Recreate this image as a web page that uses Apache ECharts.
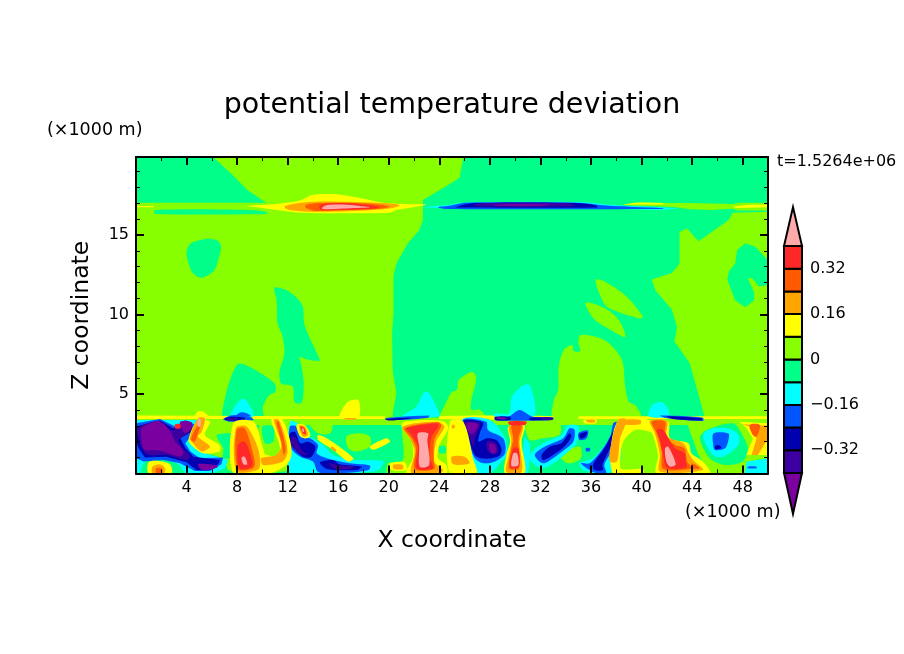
<!DOCTYPE html>
<html>
<head>
<meta charset="utf-8">
<script src="https://cdn.jsdelivr.net/npm/echarts@6/dist/echarts.min.js"></script>
<style>html,body{margin:0;background:#fff}#main{width:904px;height:654px}</style>
</head>
<body>
<div id="main"></div>
<script>
// contour regions, each one a flat list x,z,x,z... in km
const baseRegions = [[0,0, 50,0, 50,19.9, 0,19.9]];

const springRegions = [
  [0,19.9, 6.1,19.9, 7.6,18.8, 8.8,17.83, 10.3,17.03, 0,17.03],
  [1.5,16.57, 9,16.57, 10.3,16.45, 10.3,16.32, 1.5,16.32],
  [25.9,19.9, 25.6,18.6, 24.4,18, 22.7,17.2, 22.7,15.94, 22.4,15.3, 21.5,14.47, 20.6,13.2, 20.37,12.4, 20.37,10.07, 20.26,8.8, 20.3,6.5, 20.6,5.04, 20.3,3.78, 20.3,3.5, 50,3.5, 50,19.9],
  [0,0, 50,0, 50,3.05, 0,3.05],
  [5.54,14.75, 6.46,14.64, 6.73,14.26, 6.46,13.3, 6.12,12.7, 5.15,12.31, 4.49,12.6, 4.09,13.4, 4,13.95, 4.35,14.47],
  [10.95,11.68, 11.74,11.58, 12.66,11.1, 13.2,10.5, 13.3,9.44, 13.7,8.6, 14.5,7.24, 14.5,7.07, 13.46,7.18, 12.93,7.34, 13.06,6.9, 13.27,5.67, 13.1,4.45, 12.53,4.5, 12.4,5.46, 11.48,5.67, 11.35,6.4, 11.74,7.55, 11.6,8.6, 11.2,9.44, 11.13,10.9],
  [8.05,6.88, 8.44,6.88, 9.23,6.6, 10.95,5.67, 11.03,5.14, 10.55,4.93, 10.03,4.2, 10.03,3.5, 6.94,3.5, 7,4.6, 7.52,6.09]
];

const limeRegions = [
  [0,3.05, 50,3.05, 50,3.45, 0,3.45],
  [50,16.45, 47.2,16.4, 46.9,15.94, 44.5,14.6, 43.6,15.4, 43,15.2, 43,13.2, 42.4,12.6, 40.8,12.2, 41.1,11.5, 42.4,10.3, 42.8,9.2, 42.6,8.3, 43.8,6.95, 44.4,5.25, 45,3.5, 50,3.5],
  [36.35,12.17, 37,12.1, 38.7,11.2, 40.1,9.86, 39.8,9.75, 37.4,10.4, 36.9,10.9],
  [35.55,10.7, 36.1,10.7, 37.3,10.3, 38.2,9.65, 38.7,8.6, 37.4,9.1, 36.2,9.75],
  [35.16,8.7, 36.35,8.6, 37.4,8.2, 38.46,7.1, 38.7,5.46, 39,4.5, 39.5,4.3, 39.9,3.5, 33.05,3.5, 33.05,4.6, 33.4,5.25, 33.44,6.7, 33.84,7.76, 34.5,8.08, 34.63,7.7, 35.16,7.7, 35,8.2],
  [24.1,3.5, 24.5,4.4, 25,5.14, 25.4,5.25, 25.53,5.88, 26.58,6.4, 26.9,6.1, 26.8,5.46, 26.53,4.6, 26.53,4, 27.24,4, 27.64,3.5],
  [38.5,16.9, 39.6,17.03, 41.7,17, 43.8,17, 47.2,16.95, 47.7,17.03, 50,17.03, 50,16.53, 47.5,16.53, 47.2,16.65, 45.4,16.57, 43.8,16.61, 42.7,16.74, 41.7,16.78, 38.8,16.87],
  [0.45,0, 0.85,0.75, 1.9,0.96, 3.1,0.54, 3.5,0],
  [5.2,3.16, 7.7,3.16, 8,2.63, 6.4,2.42, 6.9,1.58, 6.9,0.96, 8,0.96, 8,0.16, 7.3,0.2, 7,0.85, 6.1,1.17, 5.2,1.38],
  [9.9,3.26, 12.7,3.26, 13,2.74, 12.2,2.63, 12.4,0.33, 11.9,0.16, 10,0.16],
  [16.65,2.32, 17.6,2.53, 18.5,2.32, 18.5,1.69, 17.45,1.38, 16.8,1.58],
  [13.75,3.16, 15.5,3.16, 15.35,2.53, 14.4,2.53],
  [19.95,0.64, 21.1,0.85, 21.25,3.26, 24.8,3.26, 25.6,3.05, 25.6,0, 19.95,0],
  [30.9,3.05, 33.5,3.16, 33.5,2.42, 32.2,2.21, 31.15,2.1],
  [33.5,1.17, 35.1,1.69, 35.2,0.96, 34.2,0.64],
  [38,3.3, 41,3.3, 41.5,0, 38,0],
  [43.55,3.26, 50,3.26, 50,0, 45.4,0, 44.5,1.17]
];

const springIslands = [
  [48.2,14.47, 47.56,14.05, 47.4,13.2, 46.9,12.7, 46.77,12.2, 47.4,10.9, 48.2,10.45, 48.9,10.9, 48.9,11.4, 48.4,12.27, 48.75,12.27, 49.3,11.75, 50,11.85, 50,13.4, 49,14.26],
  [0.2,0, 0.2,0.12, 0.6,0.85, 2,1.06, 3.5,0.54, 4,0],
  [10,2.95, 10.85,2.95, 10.85,2, 10.2,1.9],
  [24,1.7, 24.5,1.7, 24.5,1.3, 24,1.3],
  [44.6,2.21, 45.15,2.74, 47.25,3.16, 47.9,2.53, 48.4,1.58, 48,0.75, 46.6,0.54, 45.4,0.96]
];

const stripRegions = [
  [0,3.64, 13,3.6, 19.7,3.6, 19.7,3.42, 0,3.42],
  [24,3.6, 33,3.6, 33,3.42, 24,3.42],
  [35,3.6, 50,3.6, 50,3.42, 35,3.42]
];

const cyanRegions = [
  [0,3.37, 4.9,3.37, 4.9,2.32, 4.5,1.69, 5.85,1.17, 7.3,0.85, 7.05,0.33, 6,0, 3.9,0, 3.35,0.6, 2,1.05, 0.9,1, 0.5,0.5, 0.3,0, 0,0],
  [8.31,4.66, 8.7,4.62, 9.29,3.6, 7.52,3.6, 7.9,4.3],
  [22.82,5.14, 23.2,5.04, 23.88,4, 24,3.6, 21.1,3.6, 22.16,4.2],
  [30.67,5.56, 31.2,5.5, 31.46,3.6, 28.3,3.6, 28.43,3.78, 29.5,3.78, 29.75,4.83],
  [41.5,4.5, 42,4.2, 42.15,3.6, 40.57,3.6, 40.83,4.3],
  [22.7,16.74, 24.84,16.9, 25.6,17, 27.5,17.07, 35.1,17.07, 38,16.87, 42.7,16.68, 41.7,16.57, 36.4,16.68, 24.84,16.68],
  [12.18,3.26, 13,3.05, 13.75,2.32, 14.8,1.79, 15.6,1.17, 17.45,0.85, 19.55,0.75, 19,0.16, 14.3,0, 12.18,0],
  [25.8,3.37, 28,3.37, 29.2,2.21, 29.3,1.17, 28.8,0.64, 28,0, 26.7,0, 26.3,1.17],
  [30.75,2.21, 31.15,1.79, 31,0, 30.6,0],
  [31.15,1.17, 32.2,1.9, 33.65,2.42, 34.2,3.05, 35,2.95, 34.85,1.9, 34.2,1.38, 33.25,0.75, 32.2,0.33, 31.4,0.64],
  [35.1,0.64, 36.15,0.96, 37.2,1.9, 38.25,3.05, 38.25,0.54, 37.2,0, 35.35,0.22],
  [44.85,2.42, 45.65,2.84, 47,2.79, 47.65,2.42, 47.65,1.79, 46.45,1.06, 45.65,1.17],
  [48.3,0.75, 50,0.96, 50,0, 48.15,0]
];

const blueRegions = [
  [23.9,16.74, 24.9,16.85, 26,17.03, 35.1,17.03, 37.2,16.85, 41.7,16.68, 41.7,16.63, 24.5,16.63],
  [0,3.16, 1.9,3.43, 3.1,2.95, 3.9,3.37, 4.6,3.09, 4.65,2.63, 3.9,1.9, 4.3,1.38, 5.05,0.96, 6.9,1, 6.75,0.58, 5.85,0.16, 4.65,0.16, 3.5,0.64, 2.15,0.85, 0.6,0.75, 0,0.96],
  [6.9,3.43, 7.7,3.68, 9,3.57, 9.3,3.37, 7.4,3.26],
  [8.3,3.85, 8.8,3.78, 9.1,3.6, 7.9,3.6],
  [19.7,3.47, 23.2,3.64, 23.1,3.51, 20.9,3.37],
  [12.18,2.95, 12.7,2.95, 13,2.32, 13.75,2.21, 14.4,1.79, 14.3,1.27, 15.1,0.96, 16.9,0.64, 18.5,0.5, 18.4,0.22, 15.9,0, 14.4,0.1, 14,0.75, 13,1.06, 12.18,1.7],
  [25.85,3.37, 27.7,3.26, 27.85,2.74, 29.05,2.21, 29.2,1.27, 28.4,0.75, 27.5,0.64, 26.8,0.96, 26.4,1.79],
  [28.5,3.51, 29.45,3.57, 30.35,4, 31.4,3.57, 33,3.51, 32.9,3.37, 28.5,3.33],
  [31.55,1.17, 32.35,1.69, 33.8,2.21, 34.3,2.84, 34.7,2.74, 34.6,2, 34.05,1.58, 33,0.96, 32.2,0.64],
  [35,2.53, 35.75,2.7, 35.65,2.21, 35.1,2.1],
  [35.2,0.64, 35.9,0.64, 37.05,1.69, 37.95,2.95, 38.1,2.84, 37.75,1.58, 37.05,0.54, 37.2,0, 36.15,0.1],
  [35.6,1.6, 35.9,1.6, 35.9,1.4, 35.6,1.4],
  [37.75,3.16, 38.15,3.22, 37.7,1.79, 37.5,1.58],
  [41.45,3.64, 44.85,3.51, 44.85,3.3, 42,3.47],
  [45.7,2.53, 46.85,2.53, 46.9,2.21, 46.6,1.58, 45.8,1.48, 45.65,1.9],
  [48.4,0.43, 49.1,0.43, 49.1,0.33, 48.4,0.33]
];

const darkRegions = [
  [25.3,16.74, 26,16.91, 26.8,17, 34.8,17, 36.4,16.85, 36.5,16.72, 25.3,16.72],
  [0,2.95, 1.9,3.33, 2.95,2.84, 3.75,3.26, 4.45,2.95, 4.4,2.63, 3.5,2.21, 3.9,1.6, 4.55,1.06, 6.65,0.85, 6.5,0.58, 5.7,0.21, 4.8,0.21, 4,0.7, 2.4,1.06, 0.7,1, 0.2,1.6, 0,2],
  [7,3.43, 7.55,3.57, 8.6,3.51, 8.6,3.37, 7.4,3.33],
  [19.7,3.43, 21.9,3.51, 21.4,3.43, 20,3.33],
  [12.18,2.53, 12.6,2.6, 13,1.9, 13.6,2, 14.2,1.69, 13.9,1.06, 13.2,1.06, 12.18,1.9],
  [14.55,0.7, 15.6,0.85, 16.1,0.58, 17.85,0.43, 17.45,0.22, 15.1,0.29],
  [25.9,3.3, 27.45,3.2, 27.2,2.53, 27.1,2, 27.75,2.21, 28.5,2.1, 28.9,1.58, 28.8,1.17, 28.15,0.96, 27.35,0.96, 26.8,1.17, 26.4,2],
  [28.4,3.57, 29.6,3.57, 29.6,3.37, 28.4,3.37],
  [31.15,3.51, 33,3.51, 32.9,3.37, 31.15,3.37],
  [32.1,1.17, 32.75,1.69, 33.65,1.9, 34.3,2.53, 34.45,2.32, 33.9,1.69, 33,1.17, 32.2,0.85],
  [35.1,2.46, 35.7,2.6, 35.5,2.28, 35.15,2.2],
  [36.15,0.54, 37.05,1.58, 37.85,2.74, 37.6,1.79, 36.9,0.54, 36.95,0.22, 36.3,0.22],
  [42,3.6, 44.75,3.47, 44.75,3.35, 42.5,3.43],
  [45.85,1.75, 46.2,1.75, 46.3,1.58, 45.85,1.54]
];

const indigoRegions = [
  [26.7,16.87, 27.7,17, 34,17, 34.8,16.85, 33.8,16.78, 27.5,16.78],
  [0.1,2.85, 1.85,3.28, 2.85,2.7, 3.75,3.2, 4.4,2.9, 4.3,2.65, 3.4,2.1, 3.7,1.6, 4.3,1.1, 4,0.85, 2.5,1.15, 0.9,1.2, 0.4,1.7, 0.2,2.3],
  [7.15,3.43, 7.95,3.51, 7.95,3.37, 7.3,3.35],
  [12.3,2.21, 12.6,2.32, 13,1.58, 13.5,1.17, 13.1,1.2, 12.3,1.79],
  [15.3,0.64, 15.85,0.54, 17.3,0.43, 16.65,0.26, 15.6,0.33],
  [26,3.22, 27.2,3.16, 26.8,2.21, 26.7,1.69, 26.3,2.53],
  [27.75,2, 28.4,1.95, 28.65,1.48, 28.4,1.2, 27.85,1.38],
  [28.5,3.53, 29.3,3.53, 29.3,3.41, 28.5,3.41],
  [32.1,3.5, 33,3.5, 33,3.4, 32.1,3.4]
];

const purpleRegions = [
  [28.3,16.93, 32.7,16.93, 32.2,16.83, 28.5,16.83],
  [0.45,2.84, 1.1,3.16, 1.75,3.3, 2.3,3.05, 2.8,2.53, 3.1,2, 3.5,1.69, 3.75,1.27, 3.5,1.06, 2.15,1.38, 1.4,1.48, 0.7,1.48, 0.45,2],
  [4.9,0.58, 6.25,0.54, 6.5,0.43, 5.85,0.23, 5.2,0.23],
  [3.5,3.26, 4.4,3.22, 4.4,2.84, 3.9,2.53, 3.6,2.84],
  [26.15,3.16, 27.05,3.1, 26.7,2.53, 26.4,2.53],
  [28,1.9, 28.4,1.79, 28.5,1.38, 28.15,1.27, 27.95,1.58],
  [28.6,3.5, 29.2,3.5, 29.2,3.42, 28.6,3.42]
];

const yellowRegions = [
  [8.74,16.82, 11.1,16.95, 12.95,17.16, 14,17.52, 15.85,17.56, 17.4,17.37, 19.5,17.03, 21.1,16.95, 22.95,16.9, 20.6,16.57, 20.06,16.4, 16.4,16.36, 12.95,16.4, 11.4,16.53, 9.53,16.74],
  [0,16.82, 1.4,16.82, 1.4,16.74, 0,16.74],
  [38.5,16.9, 39.6,17.03, 41.7,17, 41.7,16.93, 39.5,16.91],
  [47.2,16.78, 48.5,16.89, 50,16.89, 50,16.74, 47.5,16.7],
  [1,0, 1,0.7, 1.8,0.79, 2.7,0.58, 2.8,0],
  [4.8,3.26, 5.85,3.26, 5.45,2.42, 6.6,1.79, 6.6,1.38, 5.3,1.27, 4.5,1.69, 4.15,2.1],
  [4.9,3.9, 5.3,3.9, 5.7,3.6, 4.7,3.6],
  [16.75,4.5, 17.6,4.6, 17.6,3.5, 16.1,3.5],
  [7.7,3.16, 9.3,3.26, 9.9,2, 10.3,0.54, 9.8,0, 7.7,0],
  [10.7,3.47, 11.5,3.47, 12.15,2.21, 12.3,1.17, 11.9,0.54, 10.6,0, 9.9,0, 9.9,1.17, 11.1,1.06, 11.4,1.58, 11.1,2.42],
  [12.7,3.05, 13.35,3.05, 13.8,2.42, 13.5,2.21, 13,2.32],
  [14.4,2.42, 15.1,2.21, 17.2,0.96, 16.8,0.75, 15.6,1.48, 14.4,2.1],
  [18.5,1.69, 19.8,2.21, 20.1,2, 18.75,1.48],
  [20.1,0.64, 21.25,0.7, 21.4,0.22, 20.2,0.22],
  [21,2.95, 21.25,3.26, 24.3,3.3, 24.7,2.84, 24,1.79, 23.9,0.96, 24.55,0.54, 24.55,0, 21.4,0, 21.9,0.96, 21.8,2],
  [24.95,3.16, 25.35,3.16, 25.35,2.84, 24.95,2.84],
  [24.84,3.26, 25.9,3.26, 26.7,0.85, 26.95,0, 24.84,0],
  [29.45,2.95, 30.75,3.05, 30.5,2, 30.75,0, 29.2,0, 29.3,1.17, 29.6,2],
  [35.4,3.37, 36.4,3.43, 36.4,3.16, 35.5,3.16],
  [37.7,0, 38.15,3.37, 40.8,3.3, 41.05,2.42, 40.65,2.63, 39.5,2.74, 38.55,2, 38.3,0.75, 38.4,0.28, 40.1,0.28, 40.1,0],
  [40.5,3.26, 42.1,3.26, 42.25,2.21, 43.7,1.9, 43.95,1.27, 44.85,0.75, 45.4,0, 41.2,0, 41.3,1.17, 40.9,2.42],
  [47.75,3.26, 50,3.16, 50,1.17, 48.3,1.17, 48.8,2.21, 48.3,2.84]
];

const amberRegions = [
  [11.8,16.82, 12.95,17, 14.5,17.1, 17.4,17.07, 19.5,17, 20.85,16.87, 20.06,16.66, 18,16.53, 14.3,16.45, 12.4,16.53, 11.8,16.68],
  [1.3,0, 1.3,0.42, 1.9,0.58, 2.3,0.33, 2.2,0],
  [4.9,3.47, 5.45,3.47, 5.2,2.63, 4.9,2.32, 5.85,1.69, 5.2,1.38, 4.5,1.9, 4.25,2.21],
  [7.9,2.84, 8.75,2.95, 9.65,1.58, 9.8,0.43, 9.4,0.16, 7.95,0.16],
  [10.9,3.37, 11.3,3.37, 11.9,2, 11.95,1.17, 11.5,0.7, 10.05,0.54, 9.9,0.96, 11.1,1.17, 11.5,1.79],
  [12.9,3, 13.35,2.95, 13.6,2.42, 13.2,2.32],
  [15.5,1.69, 15.85,1.48, 15.75,1.38, 15.4,1.58],
  [16.5,3.47, 17.4,3.47, 17.4,3.4, 16.5,3.4],
  [20.35,0.54, 21.1,0.54, 21.1,0.29, 20.4,0.29],
  [21.1,2.95, 23.75,3.26, 24.4,2.95, 23.75,2, 23.6,0.75, 24.3,0.22, 24,0, 21.8,0, 22.05,1.38, 21.65,2.21],
  [24.97,1.06, 26,1.06, 26.4,0.64, 25.1,0.58],
  [25,3.05, 25.2,3.05, 25.2,2.84, 25,2.84],
  [29.5,2.95, 30.6,3, 30.35,2, 30.5,0.1, 29.3,0.1, 29.5,1.17, 29.7,2.1],
  [35.6,3.37, 36.3,3.37, 36.3,3.22, 35.75,3.22],
  [38.15,3.37, 38.8,3.37, 38.3,2.21, 38.05,0.75, 37.5,0.75, 37.5,1.47],
  [38.55,3.37, 39.9,3.37, 39.9,3.1, 38.55,3.1],
  [40.65,3.3, 42,3.3, 42,2.32, 43.3,1.9, 43.8,1.17, 44.2,0.75, 44.85,0.22, 41.45,0.12, 41.45,1.17, 41.05,2.53],
  [47.9,3.1, 50,3, 50,2.21, 49.2,1.17, 48.7,1.17, 49.1,2.21, 48.55,2.95]
];

const orangeRegions = [
  [13.4,16.87, 14.5,17, 17.4,17, 19,16.93, 20.05,16.78, 19.3,16.64, 16.9,16.57, 14.3,16.51, 13.5,16.68],
  [1.6,0, 1.6,0.33, 2.05,0.33, 2.05,0],
  [4.9,3.05, 5.1,3.05, 4.9,2.53, 4.65,2, 4.35,2.15],
  [7.95,2.74, 8.6,2.84, 9.25,1.27, 9.4,0.54, 9.15,0.29, 8.05,0.29],
  [11.1,3.26, 11.3,3.26, 11.85,1.58, 11.7,1.17, 11.5,2],
  [21.25,2.84, 23.9,3.22, 24.15,3, 23.6,2.1, 23.55,0.85, 23.6,0.29, 22.05,0.29, 22.15,1.58, 21.8,2.21],
  [29.7,3.05, 30.5,3, 30.25,2.21, 30.3,0.33, 29.5,0.33, 29.7,1.58, 29.85,2.21],
  [40.8,3.26, 41.85,3.26, 41.85,2.42, 42.65,1.79, 43.4,1.58, 43.6,0.75, 43.95,0.33, 41.7,0.29, 41.6,1.38, 41.2,2.53],
  [43.95,0.64, 44.6,0.33, 43.95,0.33],
  [48.55,3.05, 49.35,3.05, 49.1,2.32, 48.8,2.42]
];

const redRegions = [
  [14.5,16.78, 14.8,16.93, 16.4,17, 17.95,16.91, 19.3,16.74, 17.95,16.61, 15.3,16.57, 14.6,16.61],
  [3.1,3.1, 3.5,3.1, 3.5,2.85, 3.1,2.85],
  [8.05,1.79, 8.6,2, 9.15,0.96, 9.15,0.43, 8.2,0.33],
  [13,2.95, 13.3,2.88, 13.45,2.46, 13.2,2.53],
  [21.4,2.84, 23.75,3.16, 23.95,3, 23.35,2.21, 23.25,0.96, 23.5,0.33, 22.2,0.33, 22.3,1.69, 21.8,2.42],
  [29.85,1.58, 30.25,1.58, 30.3,0.43, 29.6,0.37],
  [29.45,3.26, 30.9,3.26, 30.75,3.05, 29.6,3.05],
  [41.2,2.74, 41.7,2.74, 42.65,1.58, 43.4,1.27, 43.5,0.75, 43.55,0.37, 42,0.37, 41.7,1.17, 41.45,2.1]
];

const pinkRegions = [
  [14.7,16.68, 15.05,16.87, 16.4,16.91, 17.7,16.82, 18.5,16.74, 16.4,16.66, 15.05,16.61],
  [4.9,3.43, 5.1,3.43, 5.1,2.95, 4.9,2.95],
  [8.35,1, 8.6,1.06, 8.8,0.58, 8.5,0.58],
  [13.13,2.84, 13.23,2.84, 13.3,2.63, 13.18,2.63],
  [22.3,2.53, 23.1,2.53, 23.05,2.1, 23.2,0.54, 22.45,0.43, 22.4,1.69],
  [29.85,1.27, 30.15,1.27, 30.25,0.54, 29.7,0.47],
  [41.85,1.58, 42.1,1.69, 42.7,0.58, 42.25,0.43, 41.95,0.75]
];

// colour bar: band edges from bottom to top, and the labelled levels
const barEdges = [-0.4, -0.32, -0.24, -0.16, -0.08, 0, 0.08, 0.16, 0.24, 0.32, 0.4];
const barColors = ['#3c00a0', '#0000b0', '#0055ff', '#00ffff', '#00ff88', '#88ff00', '#ffff00', '#ffa500', '#ff5a00', '#ff2828'];
const barTips = [-0.544, 0.537];
const barTicks = [-0.32, -0.16, 0, 0.16, 0.32];

const fontName = 'DejaVu Sans';
const C = {
  pink: '#ffaaaa', red: '#ff2828', orange: '#ff5a00', amber: '#ffa500', yellow: '#ffff00', lime: '#88ff00',
  spring: '#00ff88', cyan: '#00ffff', blue: '#0055ff', dark: '#0000b0', indigo: '#3c00a0', purple: '#7a00a0'
};

var myChart = echarts.init(document.getElementById('main'));

// painted back to front, so an inner contour sits on top of the outer one
const layers = [
  [baseRegions, C.lime], [springRegions, C.spring], [limeRegions, C.lime], [springIslands, C.spring],
  [stripRegions, C.yellow], [cyanRegions, C.cyan], [blueRegions, C.blue], [darkRegions, C.dark],
  [indigoRegions, C.indigo], [purpleRegions, C.purple], [yellowRegions, C.yellow], [amberRegions, C.amber],
  [orangeRegions, C.orange], [redRegions, C.red], [pinkRegions, C.pink]
];

// regions that run into the frame keep their corners, the rest get rounded like real contours
function touchesFrame(r) {
  for (let k = 0; k < r.length; k += 2) {
    if (r[k] === 0 || r[k] === 50 || r[k + 1] === 19.9) return true;
  }
  return false;
}

function regionSeries(regions, color, i) {
  return {
    type: 'custom',
    xAxisIndex: 0,
    yAxisIndex: 0,
    z: 2 + i,
    silent: true,
    animation: false,
    clip: true,
    data: regions.map(r => [r[0], r[1]]),
    renderItem: function (params, api) {
      const r = regions[params.dataIndex];
      const points = [];
      for (let k = 0; k < r.length; k += 2) points.push(api.coord([r[k], r[k + 1]]));
      return {
        type: 'polygon',
        shape: { points: points, smooth: touchesFrame(r) ? 0 : 0.3 },
        style: { fill: color }
      };
    }
  };
}

const barSeries = {
  type: 'custom',
  xAxisIndex: 2,
  yAxisIndex: 2,
  z: 30,
  silent: true,
  animation: false,
  data: barColors.map((c, i) => [0, barEdges[i]]),
  renderItem: function (params, api) {
    const i = params.dataIndex;
    const a = api.coord([0, barEdges[i]]);
    const b = api.coord([1, barEdges[i + 1]]);
    return {
      type: 'rect',
      shape: { x: a[0], y: b[1], width: b[0] - a[0], height: a[1] - b[1] },
      style: { fill: barColors[i], stroke: '#000', lineWidth: 2 }
    };
  }
};

const tipSeries = {
  type: 'custom',
  xAxisIndex: 2,
  yAxisIndex: 2,
  z: 30,
  silent: true,
  animation: false,
  data: [[0.5, barTips[0]], [0.5, barTips[1]]],
  renderItem: function (params, api) {
    const i = params.dataIndex;
    const edge = i === 0 ? barEdges[0] : barEdges[barEdges.length - 1];
    return {
      type: 'polygon',
      shape: { points: [api.coord([0, edge]), api.coord([1, edge]), api.coord([0.5, barTips[i]])] },
      style: { fill: i === 0 ? C.purple : C.pink, stroke: '#000', lineWidth: 2, lineJoin: 'miter' }
    };
  }
};

const labelStyle = { fontFamily: fontName, fontSize: 16, color: '#000' };

function frameAxis(extra) {
  return Object.assign({
    type: 'value',
    z: 50,
    gridIndex: 0,
    splitLine: { show: false },
    axisLine: { show: true, onZero: false, lineStyle: { color: '#000', width: 2 } },
    axisTick: { show: true, inside: true, length: 8, lineStyle: { color: '#000', width: 2 } }
  }, extra);
}

option = {
  animation: false,
  backgroundColor: '#fff',
  title: {
    text: 'potential temperature deviation',
    left: 'center',
    top: 86,
    textStyle: { fontFamily: fontName, fontSize: 28.5, fontWeight: 'normal', color: '#000' }
  },
  graphic: [
    { type: 'text', left: 47, top: 121, style: { text: '(×1000 m)', font: '17.5px "DejaVu Sans"', fill: '#000' } },
    { type: 'text', left: 685, top: 503, style: { text: '(×1000 m)', font: '17.5px "DejaVu Sans"', fill: '#000' } },
    { type: 'text', left: 777, top: 154, style: { text: 't=1.5264e+06', font: '16px "DejaVu Sans"', fill: '#000' } }
  ],
  grid: [
    { left: 136, top: 157, width: 632, height: 316.5 },
    { left: 784, top: 246, width: 18, height: 227 }
  ],
  xAxis: [
    frameAxis({
      position: 'bottom', min: 0, max: 50, interval: 4,
      minorTick: { show: true, splitNumber: 2, length: 4, lineStyle: { color: '#000', width: 1 } },
      axisLabel: Object.assign({ margin: 6, showMaxLabel: false, showMinLabel: false }, labelStyle),
      name: 'X coordinate', nameLocation: 'middle', nameGap: 55,
      nameTextStyle: { fontFamily: fontName, fontSize: 23.5, color: '#000' }
    }),
    frameAxis({
      position: 'top', min: 0, max: 50, interval: 4,
      minorTick: { show: true, splitNumber: 2, length: 4, lineStyle: { color: '#000', width: 1 } },
      axisLabel: { show: false }
    }),
    { type: 'value', gridIndex: 1, min: 0, max: 1, show: false }
  ],
  yAxis: [
    frameAxis({
      position: 'left', min: 0, max: 19.9, interval: 5,
      minorTick: { show: true, splitNumber: 5, length: 4, lineStyle: { color: '#000', width: 1 } },
      axisLabel: Object.assign({ margin: 7, showMaxLabel: false, showMinLabel: false, padding: [3, 0, 0, 0] }, labelStyle),
      name: 'Z coordinate', nameLocation: 'middle', nameGap: 42,
      nameTextStyle: { fontFamily: fontName, fontSize: 23.5, color: '#000' }
    }),
    frameAxis({
      position: 'right', min: 0, max: 19.9, interval: 5,
      minorTick: { show: true, splitNumber: 5, length: 4, lineStyle: { color: '#000', width: 1 } },
      axisLabel: { show: false }
    }),
    {
      type: 'value', gridIndex: 1, position: 'right', min: barEdges[0], max: barEdges[barEdges.length - 1],
      splitLine: { show: false },
      axisLine: { show: false },
      axisTick: { show: false },
      axisLabel: Object.assign({
        margin: 8,
        padding: [3, 0, 0, 0],
        customValues: barTicks,
        formatter: v => String(v).replace('-', '−')
      }, labelStyle)
    }
  ],
  series: layers.map((l, i) => regionSeries(l[0], l[1], i)).concat([barSeries, tipSeries])
};

myChart.setOption(option);
</script>
</body>
</html>
